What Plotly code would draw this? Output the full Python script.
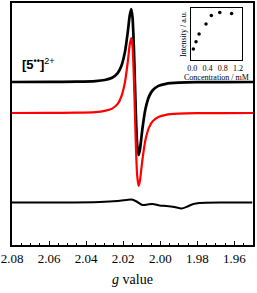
import plotly.graph_objects as go

# EPR spectra (g value vs. derivative intensity, arbitrary units)
g_values = [2.08, 2.06, 2.045, 2.035, 2.03, 2.026, 2.023, 2.021, 2.019, 2.0175,
            2.0165, 2.0157, 2.015, 2.0145, 2.014, 2.0137, 2.0133, 2.013, 2.0125,
            2.0117, 2.011, 2.0103, 2.0095, 2.008, 2.006, 2.004, 2.001, 1.997,
            1.99, 1.98, 1.965, 1.95]
experimental = [0, 0.1, 0.3, 0.9, 2.0, 4.3, 8.9, 16, 30.7, 50.7, 66.4, 73, 64.9,
                46.8, 19.2, 0, -25.3, -41.9, -62.1, -73, -67.8, -57.1, -44.6,
                -26.8, -14.1, -8.0, -3.9, -1.8, -0.7, -0.2, -0.1, 0]
simulated = [0, 0.1, 0.3, 0.9, 2.1, 4.4, 9.1, 16.5, 31.5, 52, 68.2, 75, 66.6,
             48, 19.7, 0, -25.3, -41.9, -62.1, -73, -67.8, -57.1, -44.6, -26.8,
             -14.1, -8.0, -3.9, -1.8, -0.7, -0.2, -0.1, 0]

g_diff = [2.08, 2.0542, 2.0327, 2.023, 2.0182, 2.0155, 2.0128, 2.0096, 2.0069,
          2.0042, 2.0004, 1.9967, 1.9924, 1.9886, 1.9854, 1.9822, 1.9789,
          1.9682, 1.9504]
difference = [0, 0, 0.5, 1.5, 2.5, 3, 1, -2.5, -2, -1.5, -3, -3.5, -4.5, -6,
              -4, -1.5, -0.5, 0, 0]

# Inset: intensity vs concentration
concentration = [0.03, 0.1, 0.18, 0.36, 0.5, 0.72, 1.03]
intensity = [11, 18.3, 26, 36, 44.7, 47.7, 46.7]

offset_exp = 163
offset_sim = 132
offset_diff = 42.5

fig = go.Figure()
fig.add_trace(go.Scatter(x=g_values, y=[v + offset_exp for v in experimental],
                         mode="lines", line=dict(color="black", width=2.7, shape="spline", smoothing=0.6)))
fig.add_trace(go.Scatter(x=g_values, y=[v + offset_sim for v in simulated],
                         mode="lines", line=dict(color="#ff0000", width=2.2, shape="spline", smoothing=0.6)))
fig.add_trace(go.Scatter(x=g_diff, y=[v + offset_diff for v in difference],
                         mode="lines", line=dict(color="black", width=2, shape="spline", smoothing=0.6)))
fig.add_trace(go.Scatter(x=concentration, y=intensity, mode="markers",
                         marker=dict(color="black", size=3.5),
                         xaxis="x2", yaxis="y2"))

serif = "Liberation Serif"
fig.update_layout(
    width=257, height=293,
    margin=dict(l=12, r=4, t=3, b=48, autoexpand=False),
    plot_bgcolor="white", paper_bgcolor="white",
    showlegend=False,
    xaxis=dict(range=[2.08, 1.95], showgrid=False, zeroline=False, automargin=False,
               showline=True, mirror=True, linecolor="black", linewidth=2,
               ticks="inside", ticklen=4, tickwidth=1, tickcolor="black",
               dtick=0.02, tick0=2.0, tickformat=".2f",
               minor=dict(dtick=0.005, ticks="inside", ticklen=2.5, tickcolor="black"),
               tickfont=dict(family=serif, size=13, color="black"),
               title=dict(text="<i>g</i> value", font=dict(family=serif, size=14, color="black"), standoff=10)),
    yaxis=dict(range=[0, 242], showgrid=False, zeroline=False, showticklabels=False, automargin=False,
               showline=True, mirror=True, linecolor="black", linewidth=2, ticks=""),
    xaxis2=dict(domain=[0.743, 0.954], anchor="y2", range=[-0.03, 1.3], automargin=False,
                showgrid=False, zeroline=False, showline=True, mirror=True,
                linecolor="black", linewidth=1, ticks="",
                tickvals=[0, 0.4, 0.8, 1.2], ticktext=["0.0", "0.4", "0.8", "1.2"],
                tickfont=dict(family=serif, size=8, color="black"),
                title=dict(text="Concentration / mM", font=dict(family=serif, size=8, color="black"), standoff=2)),
    yaxis2=dict(domain=[0.764, 0.979], anchor="x2", range=[0, 52], automargin=False,
                showgrid=False, zeroline=False, showline=True, mirror=True,
                linecolor="black", linewidth=1, ticks="", showticklabels=False,
                title=dict(text="Intensity / a.u.", font=dict(family=serif, size=8, color="black"), standoff=2)),
    annotations=[dict(text="<b>[5</b><sup><b>••</b></sup><b>]</b><sup>2+</sup>",
                      x=0.035, y=(245 - 64) / 242, xref="paper", yref="paper",
                      xanchor="left", yanchor="middle", showarrow=False,
                      font=dict(family="Liberation Sans", size=13, color="black"))],
)

fig.write_html("out.html", config={"displayModeBar": False},
               post_script="document.body.style.margin='0';document.body.style.padding='0';")
